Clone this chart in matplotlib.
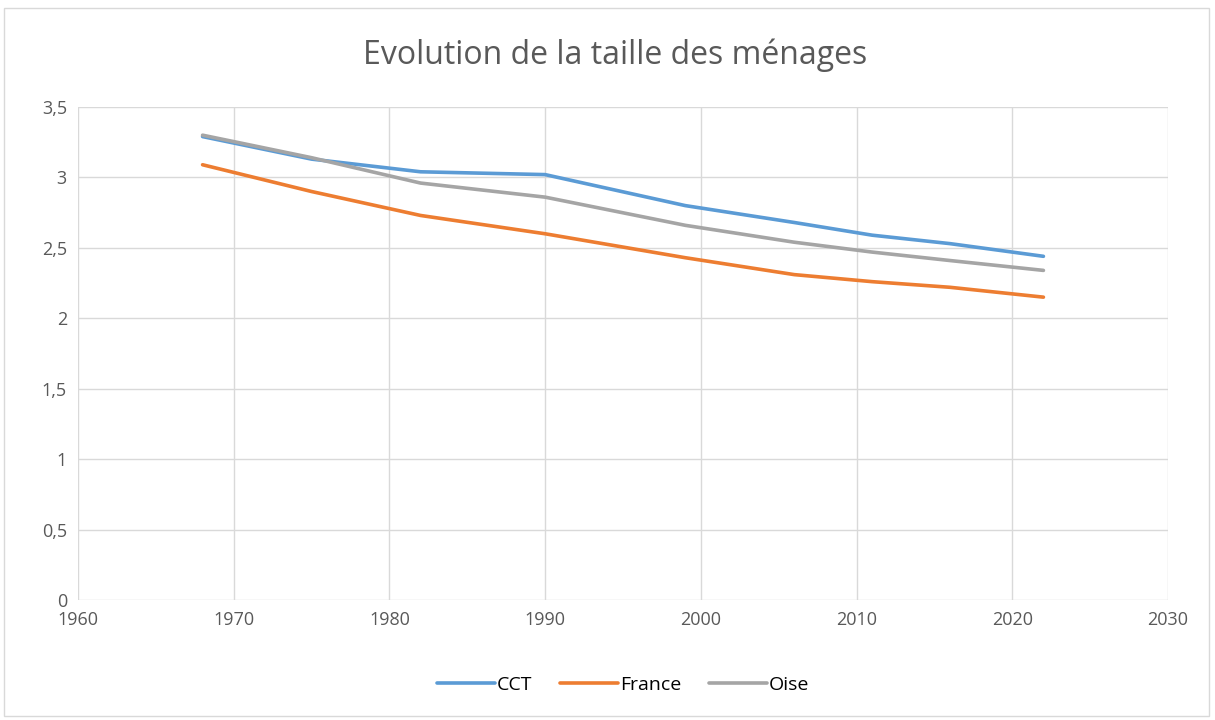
import matplotlib as mpl
mpl.use('Agg')
import matplotlib.pyplot as plt
from matplotlib.ticker import FuncFormatter, MultipleLocator
from matplotlib.patches import Rectangle

years = [1968, 1975, 1982, 1990, 1999, 2006, 2011, 2016, 2022]
cct = [3.29, 3.13, 3.04, 3.02, 2.80, 2.68, 2.59, 2.53, 2.44]
france = [3.09, 2.90, 2.73, 2.60, 2.43, 2.31, 2.26, 2.22, 2.15]
oise = [3.30, 3.14, 2.96, 2.86, 2.66, 2.54, 2.47, 2.41, 2.34]

plt.rcParams['font.family'] = ['Open Sans', 'DejaVu Sans']
txt = '#595959'
grid = '#D9D9D9'

fig = plt.figure(figsize=(12.15, 7.2), dpi=100)
ax = fig.add_axes([78 / 1215, 1 - 600 / 720, 1090 / 1215, 493 / 720])

ax.plot(years, cct, color='#5B9BD5', lw=2.6, label='CCT', solid_capstyle='round')
ax.plot(years, france, color='#ED7D31', lw=2.6, label='France', solid_capstyle='round')
ax.plot(years, oise, color='#A5A5A5', lw=2.6, label='Oise', solid_capstyle='round')

ax.set_xlim(1960, 2030)
ax.set_ylim(0, 3.5)
ax.xaxis.set_major_locator(MultipleLocator(10))
ax.yaxis.set_major_locator(MultipleLocator(0.5))
ax.yaxis.set_major_formatter(FuncFormatter(lambda v, p: ('%g' % v).replace('.', ',')))
ax.grid(True, color=grid, lw=1)
ax.set_axisbelow(True)
for s in ax.spines.values():
    s.set_visible(False)
ax.tick_params(length=0, labelsize=13, colors=txt, pad=8)

fig.text(0.506, 1 - 55 / 720, 'Evolution de la taille des ménages', ha='center', va='center',
         fontsize=23, color=txt)

ax.legend(loc='center', bbox_to_anchor=(0.5, (600 - 685) / 493), ncol=3, frameon=False,
          fontsize=14, handlelength=3.0, handletextpad=0.1, columnspacing=1.4,
          labelcolor='black')

fig.patches.append(Rectangle((4 / 1215, 4 / 720), 1 - 10 / 1215, 1 - 12 / 720,
                             transform=fig.transFigure, fill=False, edgecolor=grid, lw=1))

plt.savefig('out.png')
plt.close()
